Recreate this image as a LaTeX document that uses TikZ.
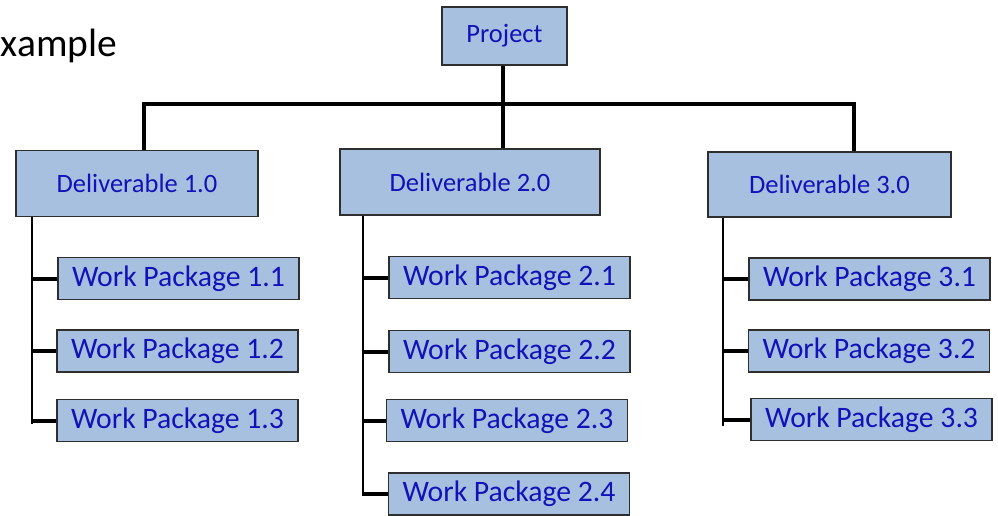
\documentclass[tikz,border=0pt]{standalone}
\usepackage{fontspec}
\setmainfont{Carlito}
\definecolor{boxfill}{HTML}{A8C0E0}
\definecolor{boxedge}{HTML}{2E2E2E}
\definecolor{boxtext}{HTML}{1212B8}
\begin{document}
\begin{tikzpicture}[x=1pt,y=-1pt,
  wbs/.style={draw=boxedge,line width=1.5pt,fill=boxfill,text=boxtext,
    inner sep=0pt,anchor=center},
  toplevel/.style={wbs,font=\fontsize{26.5}{30}\selectfont},
  pkg/.style={wbs,font=\fontsize{29.7}{34}\selectfont,
    minimum width=241pt,minimum height=42pt},
  bar/.style={line width=4pt},
  trunk/.style={line width=2.8pt},
  stub/.style={line width=4pt}]
\useasboundingbox (0,0) rectangle (998,515);

% heading at the top left
\node[anchor=base west,inner sep=0pt,font=\fontsize{39.5}{44}\selectfont] (title) at (0.5,56) {xample};

% top level
\node[toplevel,minimum width=125pt,minimum height=58pt] (proj) at (504.5,36) {Project};

% deliverables
\node[toplevel,minimum width=242pt,minimum height=66pt] (d1) at (137,183.5) {Deliverable 1.0};
\node[toplevel,minimum width=260pt,minimum height=66pt] (d2) at (470,182) {Deliverable 2.0};
\node[toplevel,minimum width=243pt,minimum height=65pt] (d3) at (829.5,184.5) {Deliverable 3.0};

% work packages
\node[pkg] (w11) at (178.5,278.5) {Work Package 1.1};
\node[pkg] (w12) at (177.5,351)   {Work Package 1.2};
\node[pkg] (w13) at (177.5,420.5) {Work Package 1.3};

\node[pkg] (w21) at (509.5,277.5) {Work Package 2.1};
\node[pkg] (w22) at (509.5,351.5) {Work Package 2.2};
\node[pkg] (w23) at (507,420.5)   {Work Package 2.3};
\node[pkg] (w24) at (509,494)     {Work Package 2.4};

\node[pkg] (w31) at (869.5,279)   {Work Package 3.1};
\node[pkg] (w32) at (869,351)     {Work Package 3.2};
\node[pkg] (w33) at (871.5,419.5) {Work Package 3.3};

% horizontal bar and drops
\coordinate (barL) at (144,104);
\coordinate (barM) at (503,104);
\coordinate (barR) at (854,104);
\draw[bar] ([xshift=-2pt]barL) -- ([xshift=2pt]barR);
\draw[bar] (proj.south -| barM) -- (barM);
\draw[bar] (barL) -- (barL |- d1.north);
\draw[bar] (barM) -- (barM |- d2.north);
\draw[bar] (barR) -- (barR |- d3.north);

% trunks under each deliverable
\coordinate (t1) at (32,424);
\coordinate (t2) at (363,496);
\coordinate (t3) at (723,426);
\draw[trunk] (t1 |- d1.south) -- (t1);
\draw[trunk] (t2 |- d2.south) -- (t2);
\draw[trunk] (t3 |- d3.south) -- (t3);

% stubs into the work packages
\foreach \w in {w11,w12,w13} \draw[stub] ([xshift=-1.4pt]t1 |- \w.west) -- (\w.west);
\foreach \w in {w21,w22,w23,w24} \draw[stub] ([xshift=-1.4pt]t2 |- \w.west) -- (\w.west);
\foreach \w in {w31,w32,w33} \draw[stub] ([xshift=-1.4pt]t3 |- \w.west) -- (\w.west);
\end{tikzpicture}
\end{document}
